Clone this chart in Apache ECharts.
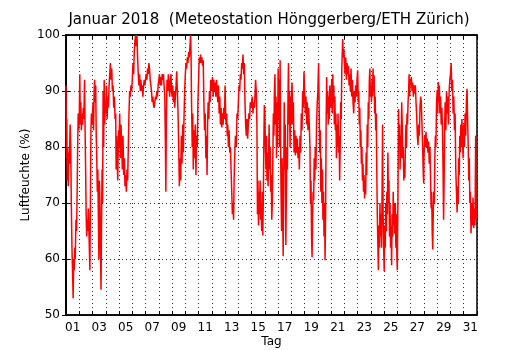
<!DOCTYPE html>
<html>
<head>
<meta charset="utf-8">
<script src="https://cdn.jsdelivr.net/npm/echarts@6/dist/echarts.min.js"></script>
<style>
html,body{margin:0;padding:0;background:#fff;}
#chart{width:530px;height:350px;}
</style>
</head>
<body>
<div id="chart"></div>
<script>
// Relative humidity (%), pairs of [days since 1 Jan 00:00, value]
var week1 = [
[0.00,91],[0.03,78],[0.06,85],[0.09,74],[0.13,80],[0.17,73],[0.21,79],[0.26,77],[0.31,84],[0.36,80],[0.40,70],[0.45,62],[0.50,57],[0.54,53],[0.58,60],[0.62,58],[0.66,62],[0.70,60],[0.75,67],[0.80,65],[0.84,72],[0.88,80],[0.92,86],[0.96,83],
[1.00,85],[1.04,93],[1.08,84],[1.12,88],[1.16,83],[1.20,86],[1.25,84],[1.30,87],[1.35,85],[1.40,92],[1.44,83],[1.48,76],[1.52,68],[1.56,64],[1.60,67],[1.64,65],[1.68,69],[1.72,66],[1.76,62],[1.80,58],[1.84,70],[1.88,83],[1.92,86],[1.96,84],
[2.00,84],[2.04,88],[2.08,83],[2.12,90],[2.16,92],[2.20,88],[2.24,91],[2.28,82],[2.32,78],[2.36,72],[2.40,76],[2.44,68],[2.48,60],[2.52,74],[2.56,70],[2.60,62],[2.64,54.5],[2.68,66],[2.72,76],[2.76,70],[2.80,90],[2.84,80],[2.88,92],[2.92,84],[2.96,88],
[3.00,86],[3.05,91],[3.10,85],[3.15,89],[3.20,87],[3.25,91],[3.30,93],[3.35,95],[3.40,92],[3.45,94],[3.50,90],[3.55,91],[3.60,87],[3.65,89],[3.70,85],[3.75,86],[3.78,76],[3.82,82],[3.86,78],[3.90,74],[3.94,80],[3.97,83],
[4.00,80],[4.05,86],[4.10,78],[4.15,84],[4.20,80],[4.25,76],[4.30,82],[4.35,75],[4.40,78],[4.45,73],[4.50,75],[4.55,72],[4.60,76],[4.65,74],[4.70,80],[4.75,86],[4.80,90],[4.85,89],[4.90,91],[4.95,90],
[5.00,92],[5.05,95],[5.10,93],[5.15,97],[5.20,99],[5.25,100],[5.30,98],[5.35,100],[5.40,96],[5.45,93],[5.50,91],[5.55,93],[5.60,90],[5.65,92],[5.70,90],[5.75,91],[5.80,89],[5.85,91],[5.90,92],[5.95,91],
[6.00,91],[6.05,93],[6.10,92],[6.15,94],[6.20,93],[6.25,95],[6.30,94],[6.35,92],[6.40,91],[6.45,90],[6.50,88],[6.55,89],[6.60,87.5],[6.65,87],[6.70,88],[6.75,89],[6.80,88.5],[6.85,90],[6.90,89],[6.95,91]
];
var week2 = [
[7.00,92],[7.05,93],[7.10,91],[7.15,92.5],[7.20,91],[7.25,93],[7.30,92],[7.35,93],[7.40,91],[7.45,89],[7.50,80],[7.53,72],[7.57,85],[7.62,92],[7.67,90],[7.72,93],[7.77,91],[7.82,89],[7.87,92],[7.92,93],[7.96,90],
[8.00,89],[8.05,91],[8.10,88],[8.15,90],[8.20,87],[8.25,89],[8.30,91],[8.35,93.5],[8.40,90],[8.45,86],[8.50,80],[8.55,73],[8.60,78],[8.65,74],[8.70,82],[8.75,77],[8.80,84],[8.85,79],[8.90,85],[8.95,90],
[9.00,93],[9.05,95],[9.10,94],[9.15,96],[9.20,95],[9.25,97],[9.30,96],[9.35,98],[9.40,100],[9.43,97],[9.47,88],[9.52,80],[9.56,86],[9.60,76],[9.65,83],[9.70,78],[9.75,84],[9.80,75],[9.85,82],[9.90,80],[9.95,88],
[10.00,92],[10.05,96],[10.10,95],[10.15,96.5],[10.20,95],[10.25,96],[10.30,94.5],[10.35,95.5],[10.40,88],[10.45,83],[10.50,86],[10.55,78],[10.60,82],[10.64,75],[10.68,84],[10.72,88],[10.77,85],[10.82,90],[10.87,88],[10.92,92],[10.96,90],
[11.00,91],[11.05,92.5],[11.10,89],[11.15,92],[11.20,90],[11.25,91.5],[11.30,89],[11.35,92],[11.40,90],[11.45,88],[11.50,91],[11.55,86],[11.60,89],[11.65,84],[11.70,87],[11.75,83.5],[11.80,86],[11.85,84],[11.90,87],[11.95,85],
[12.00,91],[12.04,86],[12.08,84],[12.12,86],[12.16,82],[12.20,84],[12.25,80],[12.30,83],[12.35,79],[12.40,80],[12.45,76],[12.50,72],[12.55,68],[12.60,70],[12.64,67],[12.68,74],[12.72,78],[12.78,82],[12.84,80],[12.90,86],[12.95,85],
[13.00,88],[13.05,91],[13.10,90],[13.15,93],[13.20,92],[13.25,95],[13.30,94],[13.35,96.5],[13.40,93],[13.45,95],[13.50,88],[13.55,84],[13.60,82],[13.65,85],[13.70,81.5],[13.75,84],[13.80,86],[13.85,85],[13.90,88],[13.95,87]
];
var week3 = [
[14.00,87],[14.05,89],[14.10,86],[14.15,88],[14.20,87],[14.25,89],[14.30,92],[14.35,90],[14.40,84],[14.44,68],[14.48,74],[14.52,66],[14.56,72],[14.60,68],[14.64,74],[14.68,67],[14.72,70],[14.76,65],[14.80,72],[14.84,64.2],[14.88,70],[14.92,80],[14.96,87.5],
[15.00,86],[15.04,80],[15.08,76],[15.12,82],[15.16,74],[15.20,79],[15.24,73],[15.28,78],[15.32,84],[15.36,76],[15.40,80],[15.44,72],[15.48,75],[15.52,67],[15.56,70],[15.60,78],[15.64,86],[15.68,82],[15.72,90],[15.76,93],[15.80,84],[15.84,89],[15.88,78],[15.92,88],[15.96,80],
[16.00,94],[16.04,85],[16.08,92],[16.12,80],[16.15,95.5],[16.18,82],[16.22,72],[16.26,65],[16.30,78],[16.34,70],[16.38,60.5],[16.42,74],[16.46,88],[16.50,76],[16.54,84],[16.58,62.5],[16.62,72],[16.66,80],[16.70,76],[16.74,88],[16.78,95],[16.82,84],[16.86,90],[16.90,80],[16.94,89],[16.98,84],
[17.00,88],[17.05,91.5],[17.10,84],[17.15,88],[17.20,79],[17.25,83],[17.30,78.5],[17.35,82],[17.40,79],[17.45,81.5],[17.50,78],[17.55,80],[17.60,76],[17.65,82],[17.70,79],[17.75,86],[17.80,83],[17.85,90],[17.90,87],[17.95,93.5],
[18.00,90],[18.05,86],[18.10,89],[18.15,84],[18.20,88],[18.25,83],[18.30,87],[18.35,84],[18.40,80],[18.44,70],[18.48,74],[18.52,64],[18.56,60.3],[18.60,68],[18.64,72],[18.68,70.5],[18.72,78],[18.76,74],[18.80,80],[18.85,76],[18.90,84],[18.95,88],
[19.00,90],[19.05,95],[19.10,86],[19.14,79],[19.18,83],[19.22,72],[19.26,78],[19.30,70],[19.34,76],[19.38,67],[19.42,72],[19.46,64],[19.50,70],[19.54,59.8],[19.58,68],[19.62,84],[19.66,92.5],[19.70,86],[19.74,90],[19.78,84],[19.82,89],[19.86,85],[19.90,91],[19.95,88],
[20.00,87],[20.04,92],[20.08,86],[20.12,93],[20.16,88],[20.20,91],[20.24,84],[20.28,89],[20.32,83],[20.36,86],[20.40,78],[20.44,84],[20.48,80],[20.52,86],[20.56,79],[20.60,82],[20.64,74],[20.68,80],[20.72,88],[20.76,85],[20.80,94],[20.84,97],[20.87,99.3],[20.92,96],[20.96,97.5]
];
var week4 = [
[21.00,95],[21.05,93],[21.10,96],[21.15,92],[21.20,95],[21.25,93],[21.30,94.5],[21.35,91],[21.40,93],[21.45,90],[21.50,94],[21.55,89],[21.60,92],[21.65,88],[21.70,86],[21.75,90],[21.80,88],[21.85,91],[21.90,89],[21.95,92],
[22.00,93.7],[22.04,88],[22.08,90],[22.12,84],[22.16,87],[22.20,80],[22.24,83],[22.28,77],[22.32,80],[22.36,74],[22.40,77],[22.44,72],[22.48,75],[22.52,70.8],[22.56,74],[22.60,71.5],[22.64,79],[22.68,75],[22.72,84],[22.76,80],[22.80,88],[22.84,85],[22.88,92],[22.92,94],[22.96,89],
[23.00,91],[23.04,88],[23.08,92],[23.12,89],[23.16,94],[23.20,90],[23.24,92.8],[23.28,86],[23.32,89],[23.36,83],[23.40,86],[23.44,76],[23.48,68],[23.52,63],[23.56,58],[23.60,66],[23.64,62],[23.68,70],[23.72,64],[23.76,68],[23.80,62],[23.84,72],[23.88,84],[23.92,68],[23.96,62],
[24.00,57.8],[24.04,66],[24.08,62],[24.12,70],[24.16,65],[24.20,72],[24.24,68],[24.28,79],[24.32,70],[24.36,74],[24.40,64],[24.44,70],[24.48,62],[24.52,66],[24.56,58.9],[24.60,68],[24.64,64],[24.68,72],[24.72,66],[24.76,70],[24.80,64.5],[24.84,70],[24.88,62],[24.92,68],[24.96,60],[24.99,58],
[25.00,62],[25.04,72],[25.08,86.8],[25.12,80],[25.16,84],[25.20,76],[25.24,82],[25.28,78],[25.32,88],[25.36,84],[25.40,78],[25.44,80],[25.48,74],[25.52,77],[25.56,74.5],[25.60,80],[25.64,84],[25.68,80],[25.72,86],[25.76,84],[25.80,88],[25.84,90],[25.88,93],[25.92,89],[25.96,92],
[26.00,91],[26.05,92.5],[26.10,90],[26.15,91.5],[26.20,89],[26.25,91],[26.30,89.5],[26.35,91],[26.40,88],[26.45,85.6],[26.50,82],[26.55,80.3],[26.60,84],[26.65,82],[26.70,87],[26.75,89],[26.80,88],[26.85,84],[26.90,80],[26.95,75],[26.98,73.5],
[27.00,78],[27.05,82],[27.10,80],[27.15,82.7],[27.20,80],[27.25,81.5],[27.30,79],[27.35,81],[27.40,77],[27.45,80],[27.50,74],[27.54,69],[27.58,72],[27.62,65],[27.66,61.7],[27.70,68],[27.74,72],[27.78,70],[27.82,78],[27.86,82],[27.90,80],[27.95,88]
];
var week5 = [
[28.00,90.2],[28.04,86],[28.08,91.6],[28.12,88],[28.16,91],[28.20,86],[28.25,89],[28.30,84],[28.35,87],[28.40,83],[28.44,76],[28.48,67],[28.52,74],[28.56,84],[28.60,88],[28.65,83],[28.70,90],[28.75,86],[28.80,89],[28.85,84],[28.90,90],[28.95,92],
[29.00,93],[29.05,95],[29.10,90],[29.15,92],[29.20,86],[29.25,89],[29.30,83],[29.35,86],[29.40,76],[29.45,72],[29.50,68.3],[29.54,73],[29.58,70],[29.62,78],[29.66,75],[29.70,82],[29.74,79],[29.78,84],[29.82,80],[29.86,85],[29.90,82],[29.95,78],
[30.00,84],[30.05,80],[30.10,86],[30.15,82],[30.20,88],[30.25,90.4],[30.30,84],[30.34,80],[30.38,74],[30.42,78],[30.46,70],[30.50,72],[30.55,64.6],[30.60,70],[30.65,66],[30.70,71],[30.75,65.5],[30.80,69],[30.85,66],[30.90,82],[30.93,70],[30.97,67],[31.00,69]
];
var dayLabelPositions = [0.5,2.5,4.5,6.5,8.5,10.5,12.5,14.5,16.5,18.5,20.5,22.5,24.5,26.5,28.5,30.5];
var yTicks = [50,60,70,80,90,100];

var data = week1.concat(week2, week3, week4, week5);
var font = 'DejaVu Sans';
var chart = echarts.init(document.getElementById('chart'), null, {renderer:'canvas'});
var dotted = {show:true, lineStyle:{color:'#000', width:0.8, type:[1,3]}};
chart.setOption({
  animation:false,
  backgroundColor:'#fff',
  title:{
    text:'Januar 2018  (Meteostation Hönggerberg/ETH Zürich)',
    left:269, top:13, textAlign:'center', padding:0,
    textStyle:{fontFamily:font, fontSize:15, fontWeight:'normal', color:'#000'}
  },
  grid:{left:66, right:53, top:35, bottom:35, outerBoundsMode:'none', containLabel:false,
        show:true, borderColor:'#000', borderWidth:1.5, backgroundColor:'transparent'},
  xAxis:[{
    type:'value', min:0, max:31, interval:1, position:'bottom',
    name:'Tag', nameLocation:'middle', nameGap:21, nameMoveOverlap:false,
    nameTextStyle:{fontFamily:font, fontSize:12, color:'#000'},
    axisLine:{show:true, lineStyle:{color:'#000', width:1.5}},
    axisTick:{show:true, inside:true, length:4, lineStyle:{color:'#000', width:1}},
    axisLabel:{show:true, customValues:dayLabelPositions, margin:7,
      fontFamily:font, fontSize:12, color:'#000',
      formatter:function(v){var d=Math.floor(v)+1; return (d<10?'0':'')+d;}},
    splitLine:dotted
  },{
    type:'value', min:0, max:31, interval:1, position:'top',
    axisLine:{show:true, lineStyle:{color:'#000', width:1.5}},
    axisTick:{show:true, inside:true, length:4, lineStyle:{color:'#000', width:1}},
    axisLabel:{show:false}, splitLine:{show:false}
  }],
  yAxis:[{
    type:'value', min:yTicks[0], max:yTicks[yTicks.length-1], interval:10, position:'left',
    name:'Luftfeuchte (%)', nameLocation:'middle', nameGap:34, nameMoveOverlap:false,
    nameTextStyle:{fontFamily:font, fontSize:12, color:'#000'},
    axisLine:{show:true, lineStyle:{color:'#000', width:1.5}},
    axisTick:{show:true, inside:true, length:4, lineStyle:{color:'#000', width:1}},
    axisLabel:{fontFamily:font, fontSize:12, color:'#000', margin:6},
    splitLine:dotted
  },{
    type:'value', min:yTicks[0], max:yTicks[yTicks.length-1], interval:10, position:'right',
    axisLine:{show:true, lineStyle:{color:'#000', width:1.5}},
    axisTick:{show:true, inside:true, length:4, lineStyle:{color:'#000', width:1}},
    axisLabel:{show:false}, splitLine:{show:false}
  }],
  series:[{
    type:'line', data:data, xAxisIndex:0, yAxisIndex:0,
    showSymbol:false, symbol:'none', sampling:null,
    lineStyle:{color:'#ff0000', width:1.5},
    z:3
  }]
});
</script>
</body>
</html>
